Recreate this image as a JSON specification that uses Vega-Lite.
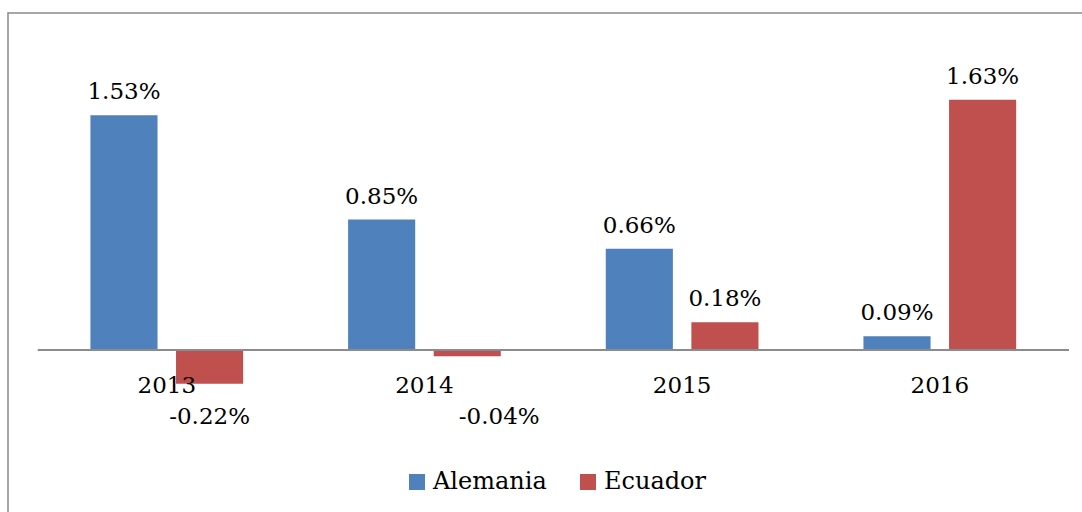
{
  "$schema": "https://vega.github.io/schema/vega-lite/v6.json",
  "width": 1082,
  "height": 512,
  "autosize": {"type": "fit", "contains": "padding"},
  "padding": {"left": 8, "top": 13, "right": -4, "bottom": -4},
  "background": "white",
  "config": {
    "view": {"stroke": "#898989", "strokeWidth": 1.5},
    "font": "DejaVu Serif"
  },
  "data": {
    "values": [
      {"year": "2013", "country": "Alemania", "value": 0.0153},
      {"year": "2013", "country": "Ecuador", "value": -0.0022},
      {"year": "2014", "country": "Alemania", "value": 0.0085},
      {"year": "2014", "country": "Ecuador", "value": -0.0004},
      {"year": "2015", "country": "Alemania", "value": 0.0066},
      {"year": "2015", "country": "Ecuador", "value": 0.0018},
      {"year": "2016", "country": "Alemania", "value": 0.0009},
      {"year": "2016", "country": "Ecuador", "value": 0.0163}
    ]
  },
  "transform": [
    {"calculate": "(datum.value < 0 ? '-' : '') + format(abs(datum.value), '.2%')", "as": "label"}
  ],
  "layer": [
    {
      "mark": {"type": "bar"},
      "encoding": {
        "x": {"field": "year", "type": "nominal", "axis": null,
              "scale": {"paddingInner": 0, "paddingOuter": 0.0918, "align": 0.633}},
        "xOffset": {"field": "country", "type": "nominal",
                    "scale": {"paddingInner": 0.216, "paddingOuter": 0.613}},
        "y": {"field": "value", "type": "quantitative", "axis": null,
              "scale": {"domain": [-0.010814, 0.021954], "nice": false, "zero": false}},
        "color": {"field": "country", "type": "nominal",
                  "scale": {"domain": ["Alemania", "Ecuador"], "range": ["#4F81BD", "#C0504D"]},
                  "legend": {"title": null, "orient": "none", "direction": "horizontal",
                             "legendX": 397, "legendY": 457,
                             "symbolType": "square", "symbolSize": 256,
                             "symbolStrokeWidth": 0,
                             "labelFont": "DejaVu Serif", "labelFontSize": 24,
                             "labelColor": "#000000", "labelOffset": 4,
                             "columnPadding": 29, "padding": 0}}
      }
    },
    {
      "mark": {"type": "rule", "color": "#8c8c8c", "strokeWidth": 1.5},
      "encoding": {
        "y": {"datum": 0, "type": "quantitative", "axis": null},
        "x": {"datum": "2013", "bandPosition": 0, "axis": null},
        "x2": {"datum": "2016", "bandPosition": 1}
      }
    },
    {
      "transform": [{"filter": "datum.value > 0"}],
      "mark": {"type": "text", "baseline": "alphabetic", "dy": -16, "fontSize": 23, "font": "DejaVu Serif", "color": "#000000"},
      "encoding": {
        "x": {"field": "year", "type": "nominal", "axis": null},
        "xOffset": {"field": "country", "type": "nominal"},
        "y": {"field": "value", "type": "quantitative", "axis": null},
        "text": {"field": "label"}
      }
    },
    {
      "transform": [{"filter": "datum.value < 0 && datum.year == '2013'"}],
      "mark": {"type": "text", "baseline": "alphabetic", "fontSize": 23, "font": "DejaVu Serif", "color": "#000000"},
      "encoding": {
        "x": {"field": "year", "type": "nominal", "axis": null},
        "xOffset": {"field": "country", "type": "nominal"},
        "y": {"datum": -0.00482, "type": "quantitative", "axis": null},
        "text": {"field": "label"}
      }
    },
    {
      "transform": [{"filter": "datum.value < 0 && datum.year == '2014'"}],
      "mark": {"type": "text", "baseline": "alphabetic", "dx": 32, "fontSize": 23, "font": "DejaVu Serif", "color": "#000000"},
      "encoding": {
        "x": {"field": "year", "type": "nominal", "axis": null},
        "xOffset": {"field": "country", "type": "nominal"},
        "y": {"datum": -0.00482, "type": "quantitative", "axis": null},
        "text": {"field": "label"}
      }
    },
    {
      "transform": [{"filter": "datum.country == 'Alemania'"}],
      "mark": {"type": "text", "baseline": "alphabetic", "dy": 43, "fontSize": 23, "font": "DejaVu Serif", "color": "#000000"},
      "encoding": {
        "x": {"field": "year", "type": "nominal", "axis": null},
        "y": {"datum": 0, "type": "quantitative", "axis": null},
        "text": {"field": "year"}
      }
    }
  ]
}
